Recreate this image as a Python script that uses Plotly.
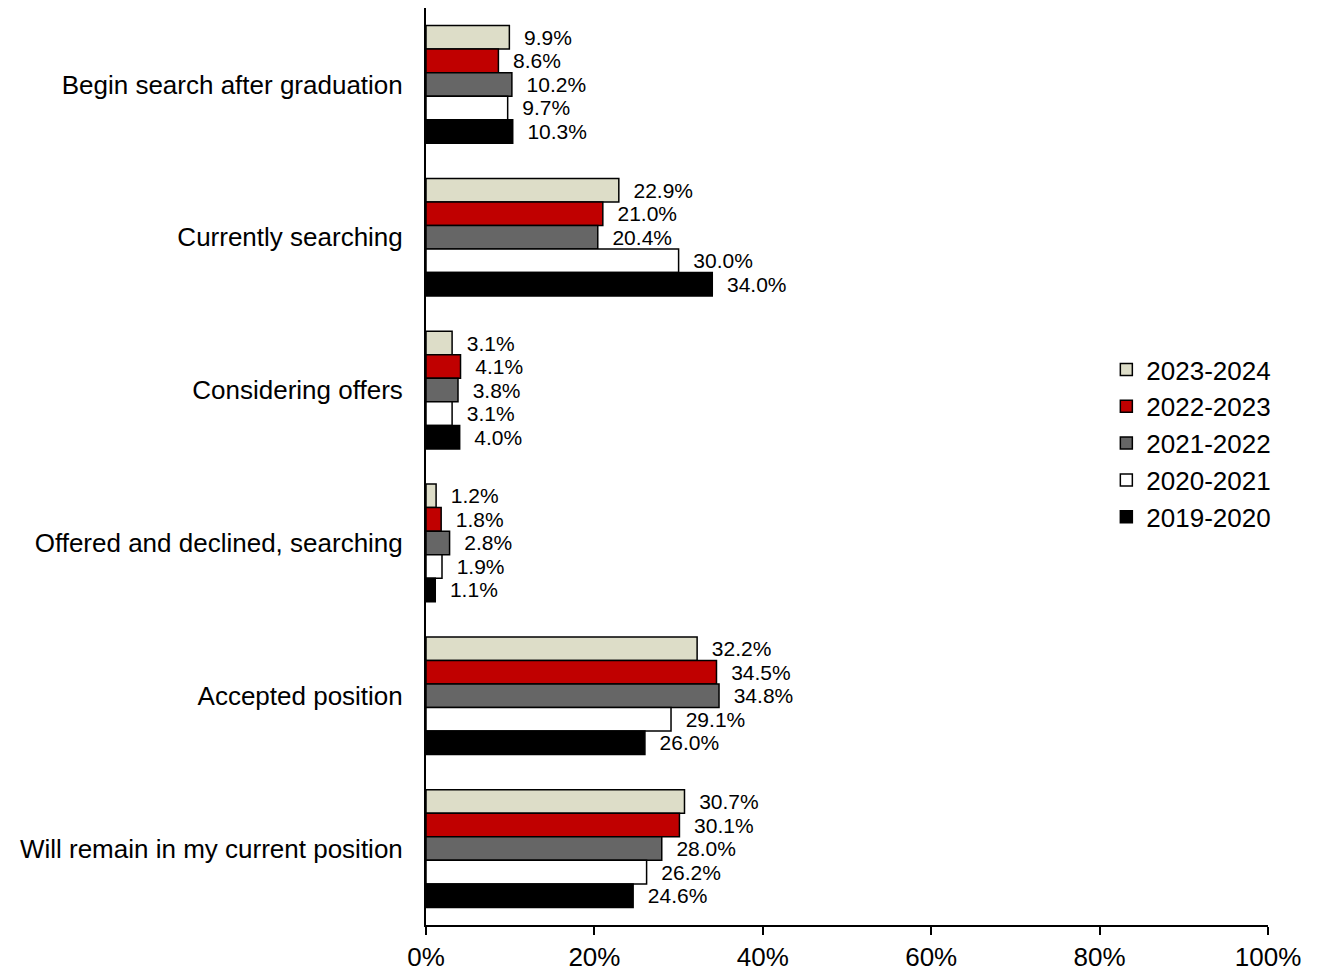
import plotly.graph_objects as go

categories = [
    "Begin search after graduation",
    "Currently searching",
    "Considering offers",
    "Offered and declined, searching",
    "Accepted position",
    "Will remain in my current position",
]

years = ["2023-2024", "2022-2023", "2021-2022", "2020-2021", "2019-2020"]

values = {
    "2023-2024": [9.9, 22.9, 3.1, 1.2, 32.2, 30.7],
    "2022-2023": [8.6, 21.0, 4.1, 1.8, 34.5, 30.1],
    "2021-2022": [10.2, 20.4, 3.8, 2.8, 34.8, 28.0],
    "2020-2021": [9.7, 30.0, 3.1, 1.9, 29.1, 26.2],
    "2019-2020": [10.3, 34.0, 4.0, 1.1, 26.0, 24.6],
}

colors = {
    "2023-2024": "#DDDDC8",
    "2022-2023": "#C00000",
    "2021-2022": "#666666",
    "2020-2021": "#FFFFFF",
    "2019-2020": "#000000",
}

tick_vals = [0, 20, 40, 60, 80, 100]
tick_text = ["0%", "20%", "40%", "60%", "80%", "100%"]

fig = go.Figure()
for yr in years:
    fig.add_trace(go.Bar(
        y=categories,
        x=values[yr],
        name=yr,
        orientation="h",
        marker=dict(color=colors[yr], line=dict(color="#000000", width=1.5)),
        text=["  %.1f%%" % v for v in values[yr]],
        textposition="outside",
        textfont=dict(size=21, color="#000000", family="Arial, Liberation Sans"),
        cliponaxis=False,
    ))

fig.update_layout(
    width=1318,
    height=972,
    barmode="group",
    bargap=0.23,
    bargroupgap=0,
    plot_bgcolor="white",
    paper_bgcolor="white",
    font=dict(family="Arial, Liberation Sans", size=26, color="#000000"),
    margin=dict(l=418, r=58, t=0, b=55),
    showlegend=True,
    legend=dict(
        x=0.808, y=0.525, xanchor="left", yanchor="middle",
        font=dict(size=26), traceorder="normal",
        itemwidth=30, bgcolor="rgba(0,0,0,0)",
    ),
)

fig.update_xaxes(
    range=[0, 100],
    tickmode="array",
    tickvals=tick_vals,
    ticktext=tick_text,
    showgrid=False,
    zeroline=False,
    showline=True,
    linecolor="#000000",
    linewidth=2,
    ticks="outside",
    ticklen=8,
    tickwidth=2,
    tickcolor="#000000",
    tickfont=dict(size=26),
)

fig.update_yaxes(
    autorange="reversed",
    showgrid=False,
    showline=True,
    linecolor="#000000",
    linewidth=2,
    ticks="",
    ticklabelstandoff=16,
    tickfont=dict(size=26),
)

fig.write_html("out.html")
